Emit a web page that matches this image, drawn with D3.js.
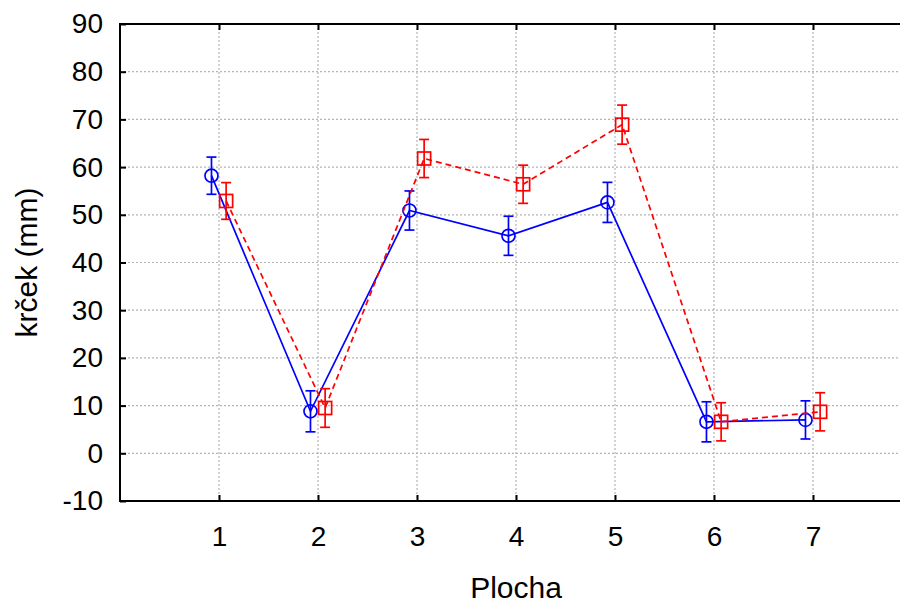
<!DOCTYPE html>
<html>
<head>
<meta charset="utf-8">
<script src="https://cdn.jsdelivr.net/npm/d3@7"></script>
<style>
  html, body { margin: 0; padding: 0; background: #fff; }
  svg { display: block; font-family: "Liberation Sans", Arial, sans-serif; }
</style>
</head>
<body>
<svg id="chart" width="900" height="606"></svg>
<script>
// Plot areas (Plocha 1–7) and stem length (krček, mm): means with error half-widths
const plochy = [1, 2, 3, 4, 5, 6, 7];
const blueMean = [58.2, 8.8, 50.9, 45.6, 52.6, 6.6, 7.0];
const blueErr  = [3.9, 4.3, 4.1, 4.1, 4.2, 4.2, 4.0];
const redMean  = [52.9, 9.5, 61.8, 56.4, 68.9, 6.6, 8.7];
const redErr   = [3.85, 4.05, 4.0, 4.0, 4.1, 4.0, 4.0];
const yTicks = [-10, 0, 10, 20, 30, 40, 50, 60, 70, 80, 90];

const svg = d3.select("#chart");
const pLeft = 120, pRight = 912, pTop = 24, pBottom = 501;

const x = d3.scaleLinear().domain([0, 8]).range([pLeft, pRight]);
const y = d3.scaleLinear().domain([-10, 90]).range([pBottom, pTop]);

// clip the series to the frame
svg.append("clipPath").attr("id", "plotclip")
  .append("rect").attr("x", pLeft).attr("y", pTop - 10)
  .attr("width", pRight - pLeft).attr("height", pBottom - pTop + 20);

// dotted grid
const grid = svg.append("g").attr("stroke", "#b4b4b4").attr("stroke-width", 1.2)
  .attr("stroke-dasharray", "2,2");
grid.selectAll("line.h").data(yTicks.filter(d => d > -10 && d < 90)).join("line")
  .attr("class", "h")
  .attr("x1", pLeft).attr("x2", pRight)
  .attr("y1", d => y(d)).attr("y2", d => y(d));
grid.selectAll("line.v").data(plochy).join("line")
  .attr("class", "v")
  .attr("y1", pTop).attr("y2", pBottom)
  .attr("x1", d => x(d)).attr("x2", d => x(d));

// axes with inward ticks; plain hyphen for negative labels
const plain = d => String(d);
const yAxis = d3.axisLeft(y).tickValues(yTicks).tickSize(-6).tickPadding(17)
  .tickFormat(plain);
const gy = svg.append("g").attr("transform", `translate(${pLeft},0)`).call(yAxis);
gy.select(".domain").remove();
gy.selectAll("text").attr("font-size", 28).attr("fill", "#000")
  .attr("font-family", "Liberation Sans, Arial, sans-serif");

const xAxis = d3.axisBottom(x).tickValues(plochy).tickSize(-6).tickPadding(25)
  .tickFormat(plain);
const gx = svg.append("g").attr("transform", `translate(0,${pBottom})`).call(xAxis);
gx.select(".domain").remove();
gx.selectAll("text").attr("font-size", 28).attr("fill", "#000")
  .attr("font-family", "Liberation Sans, Arial, sans-serif");

const xTop = d3.axisTop(x).tickValues(plochy).tickSize(-6).tickFormat("");
const gxt = svg.append("g").attr("transform", `translate(0,${pTop})`).call(xTop);
gxt.select(".domain").remove();

svg.selectAll(".tick line").attr("stroke", "#000").attr("stroke-width", 2);

// frame (left, top, bottom)
svg.append("path")
  .attr("d", `M${pRight},${pTop}H${pLeft}V${pBottom}H${pRight}`)
  .attr("fill", "none").attr("stroke", "#000").attr("stroke-width", 2);

// axis titles
svg.append("text").attr("x", (pLeft + pRight) / 2).attr("y", 598)
  .attr("text-anchor", "middle").attr("font-size", 30).text("Plocha");
svg.append("text")
  .attr("transform", `translate(37,${(pTop + pBottom) / 2}) rotate(-90)`)
  .attr("text-anchor", "middle").attr("font-size", 30).text("krček (mm)");

// series
const series = [
  { mean: blueMean, err: blueErr, color: "#0000ff", shift: -0.076, dash: null, shape: "circle" },
  { mean: redMean, err: redErr, color: "#ff0000", shift: 0.072, dash: "6,4", shape: "square" }
];

const plot = svg.append("g").attr("clip-path", "url(#plotclip)");

series.forEach(s => {
  const pts = plochy.map((p, i) => ({ p: p + s.shift, m: s.mean[i], e: s.err[i] }));
  const line = d3.line().x(d => x(d.p)).y(d => y(d.m));
  plot.append("path").datum(pts).attr("d", line)
    .attr("fill", "none").attr("stroke", s.color).attr("stroke-width", 1.7)
    .attr("stroke-dasharray", s.dash);

  const g = plot.append("g").attr("stroke", s.color).attr("stroke-width", 1.7).attr("fill", "none");
  const cap = 5;
  pts.forEach(d => {
    const cx = x(d.p);
    g.append("line").attr("x1", cx).attr("x2", cx).attr("y1", y(d.m + d.e)).attr("y2", y(d.m - d.e));
    g.append("line").attr("x1", cx - cap).attr("x2", cx + cap).attr("y1", y(d.m + d.e)).attr("y2", y(d.m + d.e));
    g.append("line").attr("x1", cx - cap).attr("x2", cx + cap).attr("y1", y(d.m - d.e)).attr("y2", y(d.m - d.e));
    if (s.shape === "circle") {
      g.append("circle").attr("cx", cx).attr("cy", y(d.m)).attr("r", 6.5);
    } else {
      g.append("rect").attr("x", cx - 6.5).attr("y", y(d.m) - 6.5).attr("width", 13).attr("height", 13);
    }
  });
});
</script>
</body>
</html>
